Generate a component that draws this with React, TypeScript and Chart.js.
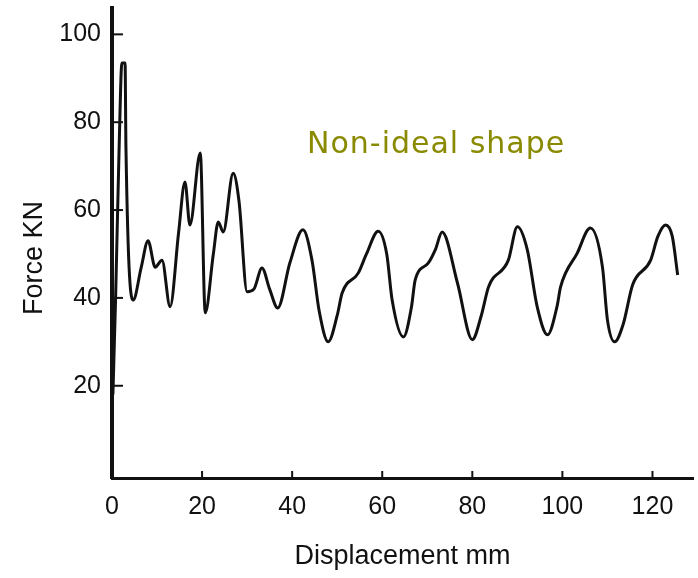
import React, { useEffect, useRef } from 'react';
import { Chart, registerables } from 'chart.js';

Chart.register(...registerables);

const displacement = [
  0.2, 0.8, 1.6, 2.2, 2.9, 3.1, 4.7, 6.5, 8.0, 9.6, 11.1, 12.9, 14.8, 16.2, 17.3, 19.6, 20.7,
  22.5, 23.6, 24.7, 26.9, 28.2, 30, 31.5, 33.3, 35, 36.8, 39.5, 42.4, 44.4, 46, 48, 50, 51.1,
  54.7, 56.5, 59.1, 61, 62.2, 64.7, 66.5, 67.3, 70.2, 71.8, 73.3, 76.7, 80, 82, 83.6, 88, 90,
  92.2, 94.4, 96.7, 98.8, 99.6, 103.3, 106.2, 108.9, 110, 111.6, 113.5, 115.6, 119.6, 121.2,
  122.9, 124.4, 125.6,
];
const force = [
  18, 40, 75, 93.5, 93.5, 74, 39.5, 47, 53, 47, 48.6, 38, 55, 66.4, 56.6, 73, 36.6,
  50, 57.3, 55, 68.4, 62, 41.4, 42, 46.8, 42, 37.7, 48, 55.5, 48.6, 37, 30, 36, 41.1,
  45.7, 50, 55.2, 50, 39.5, 31.1, 38, 44, 47.9, 51, 55, 43.4, 30.5, 36, 42.5, 48.6, 56.2,
  51, 38, 31.6, 38, 42.5, 50.2, 55.9, 47, 35, 30, 34, 43, 48.6, 54,
  56.6, 54, 45.2,
];
const xTicks = [0, 20, 40, 60, 80, 100, 120];
const yTicks = [20, 40, 60, 80, 100];
const xTitle = 'Displacement mm';
const yTitle = 'Force KN';
const note = 'Non-ideal shape';

const INK = '#111111';
const AXIS_FONT = "'Liberation Sans', Arial, sans-serif";

export default function App() {
  const ref = useRef<HTMLCanvasElement>(null);

  useEffect(() => {
    document.body.style.margin = '0';
    const extras = {
      id: 'extras',
      afterDraw(chart: any) {
        const { ctx, chartArea, scales } = chart;
        ctx.save();
        ctx.strokeStyle = INK;
        ctx.lineWidth = 2;
        // inward tick marks
        yTicks.forEach((v) => {
          const py = scales.y.getPixelForValue(v);
          ctx.beginPath();
          ctx.moveTo(chartArea.left, py);
          ctx.lineTo(chartArea.left + 11, py);
          ctx.stroke();
        });
        xTicks.forEach((v) => {
          if (v === 0) return;
          const px = scales.x.getPixelForValue(v);
          ctx.beginPath();
          ctx.moveTo(px, chartArea.bottom);
          ctx.lineTo(px, chartArea.bottom - 7);
          ctx.stroke();
        });
        // y title
        ctx.fillStyle = INK;
        ctx.font = `27px ${AXIS_FONT}`;
        ctx.textAlign = 'center';
        ctx.textBaseline = 'middle';
        ctx.translate(35, (chartArea.top + chartArea.bottom) / 2 + 15);
        ctx.rotate(-Math.PI / 2);
        ctx.fillText(yTitle, 0, 0);
        ctx.restore();
        // annotation
        ctx.save();
        ctx.fillStyle = '#8a8a00';
        ctx.font = "30px 'DejaVu Sans', sans-serif";
        (ctx as any).letterSpacing = '1px';
        ctx.textAlign = 'left';
        ctx.textBaseline = 'alphabetic';
        ctx.fillText(note, 307, 153);
        ctx.restore();
      },
    };

    const chart = new Chart(ref.current as HTMLCanvasElement, {
      type: 'line',
      data: {
        datasets: [
          {
            data: displacement.map((x, i) => ({ x, y: force[i] })),
            borderColor: INK,
            borderWidth: 3,
            pointRadius: 0,
            cubicInterpolationMode: 'monotone',
            fill: false,
          },
        ],
      },
      options: {
        animation: false,
        responsive: true,
        maintainAspectRatio: false,
        layout: { padding: { left: 0, right: 5, top: 8, bottom: 0 } },
        plugins: { legend: { display: false }, tooltip: { enabled: false } },
        scales: {
          x: {
            type: 'linear',
            min: 0,
            max: 129,
            afterBuildTicks: (s: any) => {
              s.ticks = xTicks.map((value) => ({ value }));
            },
            afterFit: (s: any) => {
              s.height = 100;
              s.paddingLeft = 0;
              s.paddingRight = 0;
            },
            grid: { drawOnChartArea: false, drawTicks: false },
            border: { display: true, color: INK, width: 3 },
            ticks: {
              color: INK,
              font: { family: AXIS_FONT, size: 25 },
              padding: 14,
              maxRotation: 0,
              autoSkip: false,
            },
            title: {
              display: true,
              text: xTitle,
              color: INK,
              font: { family: AXIS_FONT, size: 27 },
              padding: { top: 0, bottom: 5 },
            },
          },
          y: {
            type: 'linear',
            min: -1,
            max: 106,
            afterBuildTicks: (s: any) => {
              s.ticks = yTicks.map((value) => ({ value }));
            },
            afterFit: (s: any) => {
              s.width = 112;
              s.paddingTop = 0;
              s.paddingBottom = 0;
            },
            grid: { drawOnChartArea: false, drawTicks: false },
            border: { display: true, color: INK, width: 4 },
            ticks: {
              color: INK,
              font: { family: AXIS_FONT, size: 25 },
              padding: 11,
            },
          },
        },
      },
      plugins: [extras],
    });
    return () => chart.destroy();
  }, []);

  return (
    <div style={{ position: 'fixed', left: 0, top: 0, width: 698, height: 578, background: '#fff' }}>
      <canvas ref={ref} />
    </div>
  );
}
